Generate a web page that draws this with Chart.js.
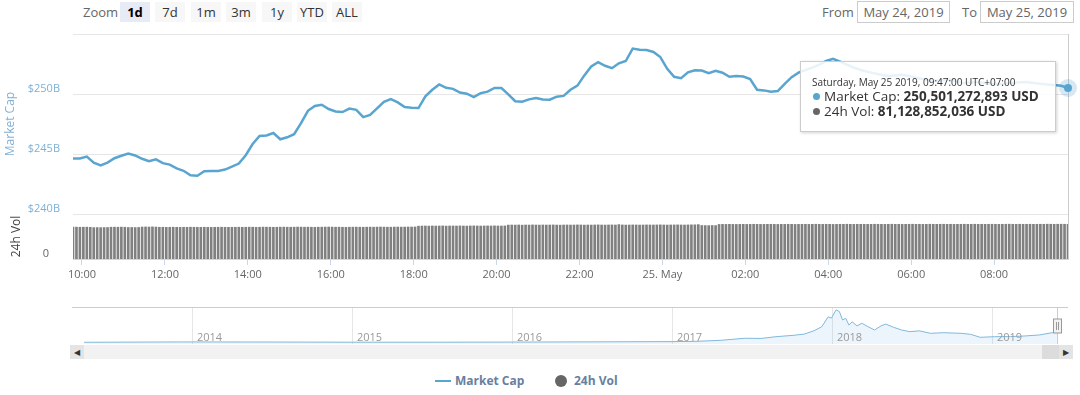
<!DOCTYPE html>
<html>
<head>
<meta charset="utf-8">
<script src="https://cdn.jsdelivr.net/npm/chart.js@4.4.1/dist/chart.umd.min.js"></script>
<style>
  body { margin: 0; background: #fff; font-family: 'Open Sans', sans-serif; }
  #wrap { position: relative; width: 1080px; height: 395px; overflow: hidden; background: #fff; }
  canvas { position: absolute; left: 0; }
  #mainChart { top: 28px; }
  #navChart { top: 300px; }
  .txt { position: absolute; font-size: 13px; color: #666; line-height: 20px; }
  .btn { position: absolute; top: 2px; width: 30px; height: 20px; line-height: 20px; text-align: center;
         font-size: 13px; color: #333; background: #f7f7f7; }
  .btn.sel { background: #e6ebf5; font-weight: bold; color: #000; }
  .dateBox { position: absolute; top: 1px; height: 20px; line-height: 20px; border: 1px solid #cccccc;
             font-size: 13px; color: #666; text-align: center; }
  .scroll { position: absolute; top: 345px; height: 14px; }
  .arrow { font-size: 8px; color: #333; text-align: center; line-height: 14px; }
  #tip { position: absolute; left: 800px; top: 61px; width: 243px; height: 56px; padding: 13px 0 0 11px;
         background: rgba(255,255,255,0.86); border: 1px solid #cccccc; box-shadow: 1px 1px 3px rgba(0,0,0,0.18);
         color: #333; white-space: nowrap; }
  #tip .head { font-size: 10px; line-height: 14px; }
  #tip .row { font-size: 13.5px; line-height: 15px; }
  #tip .dot { display: inline-block; width: 7px; height: 7px; border-radius: 50%; margin: 0 4px 1px 1px; }
  .legTxt { position: absolute; top: 372px; font-size: 12px; font-weight: bold; color: #67809f; line-height: 18px; }
</style>
</head>
<body>
<div id="wrap">
  <div class="txt" style="left:83px;top:2px;">Zoom</div>
  <div class="btn sel" style="left:120px;">1d</div>
  <div class="btn" style="left:155px;">7d</div>
  <div class="btn" style="left:191px;">1m</div>
  <div class="btn" style="left:226px;">3m</div>
  <div class="btn" style="left:262px;">1y</div>
  <div class="btn" style="left:297px;">YTD</div>
  <div class="btn" style="left:332px;">ALL</div>

  <div class="txt" style="left:822px;top:2px;">From</div>
  <div class="dateBox" style="left:857px;width:91px;">May 24, 2019</div>
  <div class="txt" style="left:962px;top:2px;">To</div>
  <div class="dateBox" style="left:980px;width:92px;">May 25, 2019</div>

  <canvas id="mainChart" width="1080" height="262"></canvas>
  <canvas id="navChart" width="1080" height="44"></canvas>

  <div class="scroll" style="left:70px;width:1003px;background:#f2f2f2;"></div>
  <div class="scroll" style="left:1042px;width:17px;background:#dcdcdc;"></div>
  <div class="scroll arrow" style="left:70px;width:14px;background:#e4e4e4;">&#9664;</div>
  <div class="scroll arrow" style="left:1059px;width:14px;background:#e4e4e4;">&#9654;</div>

  <div id="tip">
    <div class="head">Saturday, May 25 2019, 09:47:00 UTC+07:00</div>
    <div class="row"><span class="dot" style="background:#5aa5d0"></span>Market Cap: <b>250,501,272,893 USD</b></div>
    <div class="row"><span class="dot" style="background:#666"></span>24h Vol: <b>81,128,852,036 USD</b></div>
  </div>

  <div style="position:absolute;left:435px;top:380px;width:16px;height:2px;background:#5aa5d0;"></div>
  <div class="legTxt" style="left:455px;">Market Cap</div>
  <div style="position:absolute;left:555px;top:375px;width:12px;height:12px;border-radius:50%;background:#666;"></div>
  <div class="legTxt" style="left:574px;">24h Vol</div>
</div>

<script>
// ---- data: 24 May 2019 09:47 -> 25 May 2019 09:47 (UTC+7) ----
const startMinute = 587;   // 09:47, minutes after midnight 24 May
const capStep = 10;        // market cap sampled every 10 min
const volStep = 5;         // volume bars every 5 min

// market cap, billions USD
const capValues = [
  244.63, 244.62, 244.78, 244.27, 244.05, 244.28, 244.65, 244.85, 245.03, 244.88, 244.60, 244.40,
  244.55, 244.24, 244.12, 243.80, 243.60, 243.22, 243.19, 243.57, 243.59, 243.59, 243.70, 243.94,
  244.20, 244.90, 245.83, 246.50, 246.55, 246.75, 246.23, 246.39, 246.65, 247.57, 248.60, 249.00,
  249.10, 248.75, 248.55, 248.50, 248.78, 248.68, 248.07, 248.25, 248.80, 249.35, 249.57, 249.30,
  248.91, 248.85, 248.83, 249.80, 250.35, 250.80, 250.52, 250.43, 250.12, 250.03, 249.74, 250.07,
  250.20, 250.50, 250.50, 249.97, 249.40, 249.35, 249.55, 249.67, 249.55, 249.52, 249.78, 249.84,
  250.35, 250.70, 251.55, 252.30, 252.65, 252.35, 252.15, 252.56, 252.75, 253.78, 253.68, 253.67,
  253.50, 253.08, 252.10, 251.43, 251.32, 251.80, 251.97, 251.95, 251.73, 251.93, 251.77, 251.44,
  251.50, 251.45, 251.24, 250.35, 250.30, 250.18, 250.25, 250.85, 251.40, 251.78, 252.00, 252.20,
  252.45, 252.75, 252.93, 252.70, 252.45, 252.20, 252.00, 251.85, 251.72, 251.60, 251.50, 251.55,
  251.60, 251.50, 251.35, 251.25, 251.15, 251.10, 251.15, 251.20, 251.05, 250.90, 250.95, 251.00,
  250.90, 250.82, 250.82, 250.87, 250.92, 250.97, 251.00, 250.92, 250.85, 250.80, 250.75, 250.68,
  250.50,
];

// 24h volume, billions USD
const volValues = [
  74.2, 74.3, 74.1, 74.2, 74.3, 74.0, 73.3, 73.4, 73.2, 73.4, 73.5, 74.2,
  74.3, 74.2, 74.4, 74.1, 73.5, 73.6, 73.4, 73.6, 74.6, 74.8, 74.6, 74.9,
  74.5, 74.0, 74.1, 73.9, 74.0, 74.2, 74.0, 73.8, 74.1, 74.0, 74.2, 74.1,
  74.0, 73.9, 74.1, 74.0, 73.8, 74.0, 74.1, 74.2, 74.0, 73.9, 74.0, 74.1,
  74.2, 74.0, 74.1, 74.3, 74.2, 74.0, 74.1, 74.4, 74.3, 74.2, 74.0, 74.1,
  74.3, 74.4, 74.2, 74.1, 74.3, 74.5, 74.4, 74.2, 74.3, 74.1, 74.0, 74.2,
  74.3, 74.5, 74.6, 74.4, 74.2, 74.3, 74.1, 74.0, 74.2, 74.3, 74.4, 74.2,
  74.1, 74.3, 74.4, 74.2, 74.5, 74.6, 74.4, 74.3, 74.2, 74.5, 74.6, 74.4,
  74.5, 74.7, 74.6, 74.8, 76.6, 76.9, 77.0, 76.8, 77.1, 76.9, 77.0, 77.2,
  76.8, 77.0, 77.1, 76.9, 77.2, 77.0, 76.8, 77.1, 77.3, 77.0, 76.9, 77.1,
  77.2, 77.0, 77.3, 77.1, 76.9, 77.2, 79.1, 79.3, 79.2, 79.4, 79.0, 79.3,
  79.2, 79.5, 79.3, 79.1, 79.4, 79.2, 79.3, 79.5, 79.2, 79.0, 79.3, 79.4,
  79.2, 79.3, 79.5, 79.4, 79.1, 79.3, 79.2, 79.4, 79.6, 79.3, 79.2, 79.4,
  79.5, 79.3, 80.3, 79.4, 79.2, 79.3, 79.5, 79.4, 79.2, 79.3, 79.5, 79.4,
  79.3, 79.5, 79.6, 79.4, 79.2, 79.4, 79.5, 79.6, 79.4, 79.3, 79.5, 79.7,
  79.8, 80.2, 78.2, 78.0, 77.9, 78.1, 78.0, 80.6, 80.8, 80.7, 80.9, 80.8,
  80.6, 80.8, 80.9, 80.7, 80.8, 81.0, 80.9, 80.7, 80.8, 80.9, 81.0, 80.8,
  80.7, 80.9, 80.8, 81.0, 80.9, 80.7, 80.8, 80.9, 81.0, 80.8, 80.9, 81.1,
  80.9, 80.8, 81.0, 80.9, 80.7, 80.8, 81.0, 80.9, 81.1, 80.9, 80.8, 81.0,
  80.9, 81.0, 80.8, 80.9, 81.1, 81.0, 80.9, 80.8, 81.0, 81.1, 80.9, 81.0,
  80.8, 80.9, 81.0, 81.1, 80.9, 81.0, 80.8, 80.9, 81.1, 81.0, 80.9, 81.0,
  81.1, 80.9, 81.0, 80.8, 80.9, 81.0, 81.1, 80.9, 81.0, 81.1, 80.9, 81.0,
  80.9, 81.0, 81.1, 81.0, 80.9, 81.0, 81.1, 81.2, 81.0, 80.9, 81.1, 81.0,
  81.0, 81.1, 80.9, 81.0, 81.1, 81.0, 81.2, 81.1, 81.0, 81.1, 81.2, 81.1,
  81.13,
];

const xTickLabels = ['10:00', '12:00', '14:00', '16:00', '18:00', '20:00', '22:00',
                     '25. May', '02:00', '04:00', '06:00', '08:00'];
const capTicks = [240, 245, 250, 255];

// navigator: whole history, total market cap (billions USD)
const navYears = [
  2013.32, 2013.90, 2014.50, 2015.00, 2015.50, 2016.00, 2016.50, 2017.00, 2017.15, 2017.30,
  2017.45, 2017.55, 2017.65, 2017.75, 2017.82, 2017.88, 2017.93, 2017.97, 2017.99, 2018.02,
  2018.04, 2018.06, 2018.08, 2018.10, 2018.12, 2018.15, 2018.18, 2018.22, 2018.26, 2018.30,
  2018.33, 2018.38, 2018.43, 2018.48, 2018.54, 2018.61, 2018.69, 2018.80, 2018.86, 2018.92,
  2019.01, 2019.11, 2019.20, 2019.29, 2019.37, 2019.40,
];
const navValues = [
  2, 10, 8, 4, 4, 7, 12, 18, 25, 50,
  100, 95, 140, 170, 200, 280, 380, 620, 590, 790,
  750, 545, 585, 420, 500, 400, 465, 380, 300, 400,
  445, 365, 300, 260, 280, 220, 235, 220, 196, 123,
  138, 140, 155, 180, 235, 250,
];
const navYearTicks = [2014, 2015, 2016, 2017, 2018, 2019];

const LINE_COLOR = '#5aa5d0';
Chart.defaults.font.family = "'Open Sans', sans-serif";

// y axes: fixed width, no extra room reserved for half-labels
function fitLeftAxis(s) {
  s.width = 73;
  s.paddingTop = 0;
  s.paddingBottom = 0;
}

// crosshair + hover marker on the last point
const hoverPlugin = {
  id: 'hoverMarker',
  beforeDatasetsDraw(chart) {
    const pt = chart.getDatasetMeta(0).data[capValues.length - 1];
    const { ctx, chartArea } = chart;
    const x = Math.round(pt.x) + 0.5;
    ctx.save();
    ctx.strokeStyle = '#cccccc';
    ctx.lineWidth = 1;
    ctx.beginPath();
    ctx.moveTo(x, chartArea.top);
    ctx.lineTo(x, chartArea.bottom);
    ctx.stroke();
    ctx.restore();
  },
  afterDatasetsDraw(chart) {
    const pt = chart.getDatasetMeta(0).data[capValues.length - 1];
    const { ctx } = chart;
    ctx.save();
    ctx.fillStyle = 'rgba(90,165,208,0.25)';
    ctx.beginPath();
    ctx.arc(pt.x, pt.y, 9, 0, Math.PI * 2);
    ctx.fill();
    ctx.fillStyle = LINE_COLOR;
    ctx.beginPath();
    ctx.arc(pt.x, pt.y, 4, 0, Math.PI * 2);
    ctx.fill();
    ctx.restore();
  },
};

new Chart(document.getElementById('mainChart'), {
  type: 'bar',
  data: {
    datasets: [
      {
        type: 'line',
        label: 'Market Cap',
        data: capValues.map((v, i) => ({ x: startMinute + i * capStep, y: v })),
        yAxisID: 'y',
        borderColor: LINE_COLOR,
        borderWidth: 2.5,
        pointRadius: 0,
        tension: 0,
        clip: false,
      },
      {
        type: 'bar',
        label: '24h Vol',
        data: volValues.map((v, i) => ({ x: startMinute + i * volStep, y: v })),
        yAxisID: 'yVol',
        backgroundColor: '#808080',
        barThickness: 2,
      },
    ],
  },
  options: {
    responsive: false,
    animation: false,
    layout: { padding: { top: 6, right: 12, left: 0, bottom: 0 } },
    plugins: { legend: { display: false }, tooltip: { enabled: false } },
    scales: {
      x: {
        type: 'linear',
        offset: false,
        min: startMinute,
        max: startMinute + 1440,
        afterBuildTicks: (s) => { s.ticks = xTickLabels.map((_, i) => ({ value: 600 + i * 120 })); },
        afterFit: (s) => { s.height = 31; },
        ticks: {
          autoSkip: false,
          maxRotation: 0,
          color: '#666',
          font: { size: 11 },
          padding: 3,
          callback: (v, i) => xTickLabels[i],
        },
        grid: { drawOnChartArea: false, offset: false, color: '#ccd6eb', tickLength: 6 },
        border: { color: '#ccd6eb' },
      },
      // left boxes are stacked in reverse order: the volume pane is listed first so it lands at the bottom
      yVol: {
        stack: 'panes',
        stackWeight: 1,
        position: 'left',
        min: 0,
        max: 105,
        afterBuildTicks: (s) => { s.ticks = [{ value: 0 }]; },
        afterFit: fitLeftAxis,
        ticks: { color: '#666', font: { size: 11 }, padding: 16, labelOffset: -5 },
        grid: { display: false },
        border: { display: false },
        title: { display: true, text: '24h Vol', color: '#444', font: { size: 12 }, padding: { top: 9, bottom: 0 } },
      },
      y: {
        stack: 'panes',
        stackWeight: 4,
        position: 'left',
        min: 240,
        max: 255,
        afterBuildTicks: (s) => { s.ticks = capTicks.map((v) => ({ value: v })); },
        afterFit: fitLeftAxis,
        ticks: {
          color: '#7fb1d6',
          font: { size: 11 },
          padding: 13,
          labelOffset: -5,
          callback: (v) => (v === 255 ? '' : '$' + v + 'B'),
        },
        grid: { color: '#e6e6e6', drawTicks: false },
        border: { display: false },
        title: { display: true, text: 'Market Cap', color: '#7fb1d6', font: { size: 12 }, padding: { top: 3, bottom: 0 } },
      },
    },
  },
  plugins: [hoverPlugin],
});

// navigator outline, year labels and handle
const navPlugin = {
  id: 'navDecor',
  afterDraw(chart) {
    const { ctx, chartArea, scales } = chart;
    ctx.save();
    ctx.strokeStyle = '#cccccc';
    ctx.lineWidth = 1;
    ctx.beginPath();
    ctx.moveTo(chartArea.left, chartArea.top + 0.5);
    ctx.lineTo(chartArea.right, chartArea.top + 0.5);
    ctx.stroke();

    ctx.fillStyle = '#999';
    ctx.font = "11px 'Open Sans', sans-serif";
    ctx.textBaseline = 'middle';
    navYearTicks.forEach((yr) => {
      ctx.fillText(String(yr), scales.x.getPixelForValue(yr) + 4, chartArea.bottom - 6);
    });

    const hx = Math.round(scales.x.getPixelForValue(navYears[navYears.length - 1])) + 0.5;
    ctx.beginPath();
    ctx.moveTo(hx, chartArea.top);
    ctx.lineTo(hx, chartArea.bottom);
    ctx.stroke();
    const midY = Math.round((chartArea.top + chartArea.bottom) / 2);
    ctx.fillStyle = '#f2f2f2';
    ctx.strokeStyle = '#999';
    ctx.fillRect(hx - 4, midY - 7, 8, 14);
    ctx.strokeRect(hx - 4, midY - 7, 8, 14);
    ctx.beginPath();
    ctx.moveTo(hx - 1, midY - 4); ctx.lineTo(hx - 1, midY + 4);
    ctx.moveTo(hx + 1, midY - 4); ctx.lineTo(hx + 1, midY + 4);
    ctx.stroke();
    ctx.restore();
  },
};

new Chart(document.getElementById('navChart'), {
  type: 'line',
  data: {
    datasets: [{
      data: navYears.map((x, i) => ({ x, y: navValues[i] })),
      borderColor: '#7fb8dc',
      borderWidth: 1,
      backgroundColor: 'rgba(124,181,236,0.14)',
      fill: 'start',
      pointRadius: 0,
      tension: 0,
    }],
  },
  options: {
    responsive: false,
    animation: false,
    layout: { padding: { top: 7, left: 72, right: 12, bottom: 0 } },
    plugins: { legend: { display: false }, tooltip: { enabled: false } },
    scales: {
      x: {
        type: 'linear',
        min: 2013.244,
        max: 2019.469,
        afterBuildTicks: (s) => { s.ticks = navYearTicks.map((v) => ({ value: v })); },
        afterFit: (s) => { s.height = 0; },
        ticks: { display: false },
        grid: { color: '#e6e6e6', drawTicks: false },
        border: { display: false },
      },
      y: { display: false, min: -40, max: 860 },
    },
  },
  plugins: [navPlugin],
});
</script>
</body>
</html>
